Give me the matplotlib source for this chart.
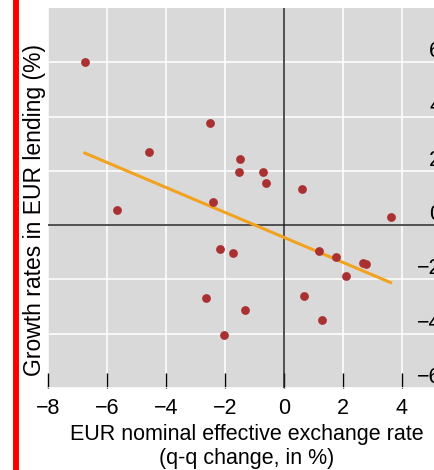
import matplotlib
matplotlib.use('Agg')
import matplotlib.pyplot as plt
from matplotlib.patches import Rectangle
import numpy as np

plt.rcParams['font.family'] = ['Liberation Sans', 'DejaVu Sans']

# --- data ---
neer_change = [-6.75, -2.51, -4.59, -1.50, -1.51, -0.70, -0.60, 0.62, -2.41,
               -5.66, 3.62, -2.18, -1.73, 1.20, 1.76, 2.68, 2.79, 2.11,
               -2.65, 0.68, -1.33, 1.28, -2.03]
lending_growth = [6.00, 3.78, 2.69, 2.44, 1.94, 1.97, 1.55, 1.34, 0.86,
                  0.54, 0.29, -0.87, -1.03, -0.96, -1.19, -1.38, -1.42, -1.87,
                  -2.68, -2.61, -3.12, -3.51, -4.04]
fit_slope = -0.46
fit_intercept = -0.45
x_ticks = [-8, -6, -4, -2, 0, 2, 4]
y_ticks = [-6, -4, -2, 0, 2, 4, 6]

GREY = '#D9D9D9'
DOT = '#AA3131'
ORANGE = '#F2A21E'
RED = '#FF0000'

fig = plt.figure(figsize=(4.35, 4.7), dpi=100)
fig.patch.set_facecolor('white')
ax = fig.add_axes([48 / 435, 82 / 470, 398 / 435, 380 / 470])
ax.set_facecolor(GREY)
for s in ax.spines.values():
    s.set_visible(False)

ax.set_xlim(-8, 5.5)
ax.set_ylim(-6, 8)
ax.set_xticks(x_ticks)
ax.set_yticks(y_ticks)
ax.grid(True, color='white', linewidth=1.1)
ax.set_axisbelow(True)

ax.axhline(0, color='#222222', linewidth=1.1, zorder=1.5)
ax.axvline(0, color='#222222', linewidth=1.1, zorder=1.5)

# trend line over the span of the data
xs = np.array([min(neer_change), max(neer_change)])
ax.plot(xs, fit_slope * xs + fit_intercept, color=ORANGE, linewidth=2.2, zorder=2)

ax.scatter(neer_change, lending_growth, s=40, color=DOT, zorder=3, linewidths=0)

# ticks
ax.tick_params(axis='x', direction='in', length=11, width=1, color='black',
               labelsize=15.5, pad=7)
ax.yaxis.tick_right()
ax.tick_params(axis='y', length=0, labelsize=15.5, pad=-3.5)
for lab in ax.get_yticklabels():
    lab.set_ha('right')
    lab.set_va('bottom')

ax.set_xlabel('EUR nominal effective exchange rate\n(q-q change, in %)',
              fontsize=15.5, labelpad=4)
ax.yaxis.set_label_position('left')
ax.set_ylabel('Growth rates in EUR lending (%)', fontsize=16.5)
ax.yaxis.set_label_coords(-0.005, 0.468)

# red bar at the left edge
fig.patches.append(Rectangle((13 / 435, 0), 6 / 435, 1, transform=fig.transFigure,
                             facecolor=RED, edgecolor='none', figure=fig))

fig.savefig('out.png', dpi=100, facecolor='white')
plt.close(fig)
